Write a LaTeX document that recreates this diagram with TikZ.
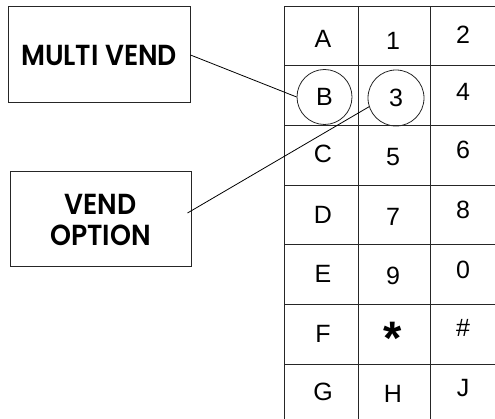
\documentclass[tikz,border=0pt]{standalone}
\usepackage{fontspec}
\setmainfont{Liberation Sans}
\newfontfamily\boxfont{Poppins SemiBold}
\usetikzlibrary{calc}
\begin{document}
\begin{tikzpicture}[x=1pt,y=-1pt,
  labelbox/.style={draw=black!85, line width=1pt, minimum width=182pt, minimum height=96pt,
    inner sep=0pt, align=center, font=\boxfont\fontsize{29}{31}\selectfont},
  gridline/.style={draw=black!85, line width=1pt},
  key/.style={inner sep=0pt, font=\fontsize{25}{25}\selectfont},
  ring/.style={draw=black!85, circle, line width=0.8pt, minimum size=55pt, inner sep=0pt},
  link/.style={draw=black, line width=0.8pt}]
\useasboundingbox (0,0) rectangle (495,419);

% label boxes
\node[labelbox] (mv) at (99,55) {\scalebox{0.92}[1]{MULTI VEND}};
\node[labelbox, minimum width=181pt, minimum height=95pt] (vo) at (100.5,219.5)
  {\scalebox{0.92}[1]{VEND}\\\scalebox{0.92}[1]{OPTION}};

% keypad grid
\foreach \y in {7,66,126,186,245,305,364}
  \draw[gridline] (284,\y) -- (495,\y);
\foreach \x in {284,358,430}
  \draw[gridline] (\x,7) -- (\x,419);

% keys, column 1
\node[key] (kA) at (323,39) {A};
\node[key] (kB) at (324.5,97) {B};
\node[key] (kC) at (323,154) {C};
\node[key] (kD) at (323,215) {D};
\node[key] (kE) at (323,274) {E};
\node[key] (kF) at (323,334) {F};
\node[key] (kG) at (323,392) {G};
% column 2
\node[key] (k1) at (393,41) {1};
\node[key] (k3) at (396,98) {3};
\node[key] (k5) at (393,157) {5};
\node[key] (k7) at (393,217) {7};
\node[key] (k9) at (393,276) {9};
\node[key, anchor=base, font=\bfseries\fontsize{47}{47}\selectfont] (kstar) at (393,355) {*};
\node[key] (kH) at (393,394) {H};
% column 3
\node[key] (k2) at (463,35) {2};
\node[key] (k4) at (463,92) {4};
\node[key] (k6) at (463,150) {6};
\node[key] (k8) at (463,210) {8};
\node[key] (k0) at (463,270) {0};
\node[key] (khash) at (463,328) {\#};
\node[key] (kJ) at (463,388) {J};

% highlight rings
\node[ring] (cB) at (324.5,97) {};
\node[ring, minimum size=56pt] (c3) at (396,98) {};

% connectors
\coordinate (voend) at ($(vo.east)+(-4,-6.5)$);
\draw[link] (mv.east) -- (cB.west);
\draw[link] (voend) -- (c3.198);
\end{tikzpicture}
\end{document}
